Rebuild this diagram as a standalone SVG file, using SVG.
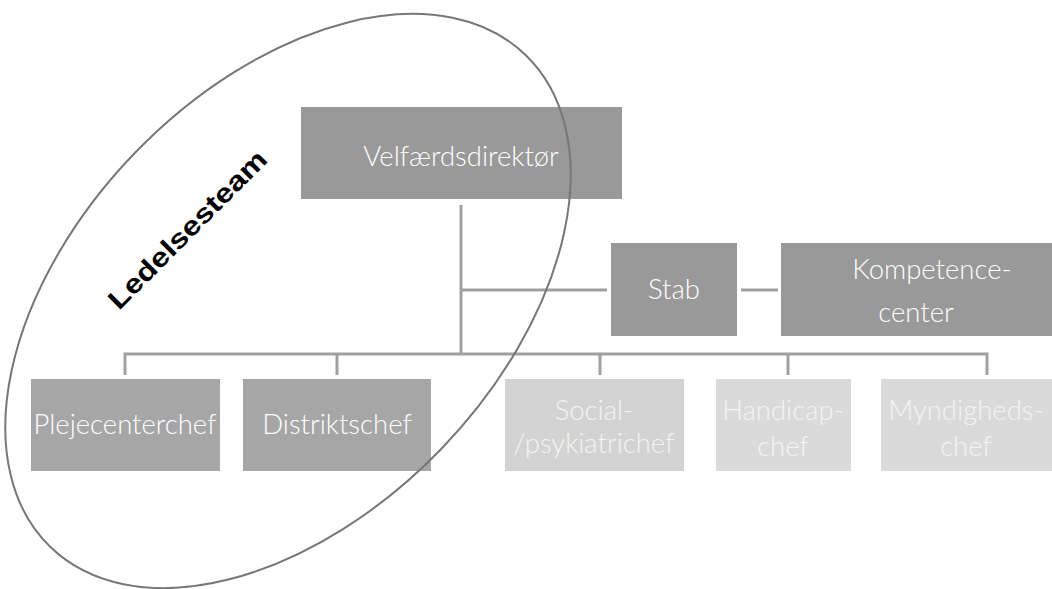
<svg xmlns="http://www.w3.org/2000/svg" width="1052" height="589" viewBox="0 0 1052 589">
<style>
.dark{fill:#999999}
.mid{fill:#a6a6a6}
.light{fill:#dadada}
.lightb{fill:#d3d3d3}
.t{font-family:Lato,"Open Sans",sans-serif;font-weight:300;font-size:27.5px;fill:#ffffff;text-anchor:middle}
.tl{font-family:Lato,"Open Sans",sans-serif;font-weight:300;font-size:27.5px;fill:#f4f4f4;text-anchor:middle}
.c{stroke:#a0a0a0;stroke-width:3;fill:none}
</style>
<rect width="1052" height="589" fill="#ffffff"/>
<g id="connectors">
<path class="c" d="M461 205 V354"/>
<path class="c" d="M461 290 H607"/>
<path class="c" d="M741 290 H778"/>
<path class="c" d="M125 375 V354 H987 V375"/>
<path class="c" d="M337 354 V375"/>
<path class="c" d="M600 354 V375"/>
<path class="c" d="M788 354 V375"/>
</g>
<g id="velfaerdsdirektoer"><rect class="dark" x="301" y="107" width="321" height="92"/><text class="t" x="461" y="166">Velfærdsdirektør</text></g>
<g id="stab"><rect class="dark" x="611" y="243" width="126" height="93"/><text class="t" x="674" y="299">Stab</text></g>
<g id="kompetencecenter"><rect class="dark" x="781" y="243" width="271" height="93"/><text class="t" x="932" y="279">Kompetence-</text><text class="t" x="916" y="322">center</text></g>
<g id="plejecenterchef"><rect class="mid" x="31" y="379" width="189" height="92"/><text class="t" x="125" y="434">Plejecenterchef</text></g>
<g id="distriktschef"><rect class="mid" x="243" y="379" width="188" height="92"/><text class="t" x="337" y="434">Distriktschef</text></g>
<g id="socialpsykiatrichef"><rect class="lightb" x="505" y="379" width="179" height="92"/><text class="tl" x="594" y="420">Social-</text><text class="tl" x="594" y="453">/psykiatrichef</text></g>
<g id="handicapchef"><rect class="light" x="716" y="379" width="135" height="92"/><text class="tl" x="783" y="420">Handicap-</text><text class="tl" x="783" y="456">chef</text></g>
<g id="myndighedschef"><rect class="light" x="881" y="379" width="171" height="92"/><text class="tl" x="966" y="420">Myndigheds-</text><text class="tl" x="966" y="456">chef</text></g>
<g id="ledelsesteam">
<ellipse cx="288" cy="301" rx="342" ry="213" transform="rotate(-46 288 301)" fill="none" stroke="#777777" stroke-width="2"/>
<text x="194" y="236" transform="rotate(-45 194 236)" font-family="'Liberation Sans',Arial,sans-serif" font-weight="bold" font-size="27" fill="#000000" text-anchor="middle" textLength="212" lengthAdjust="spacingAndGlyphs">Ledelsesteam</text>
</g>
</svg>
